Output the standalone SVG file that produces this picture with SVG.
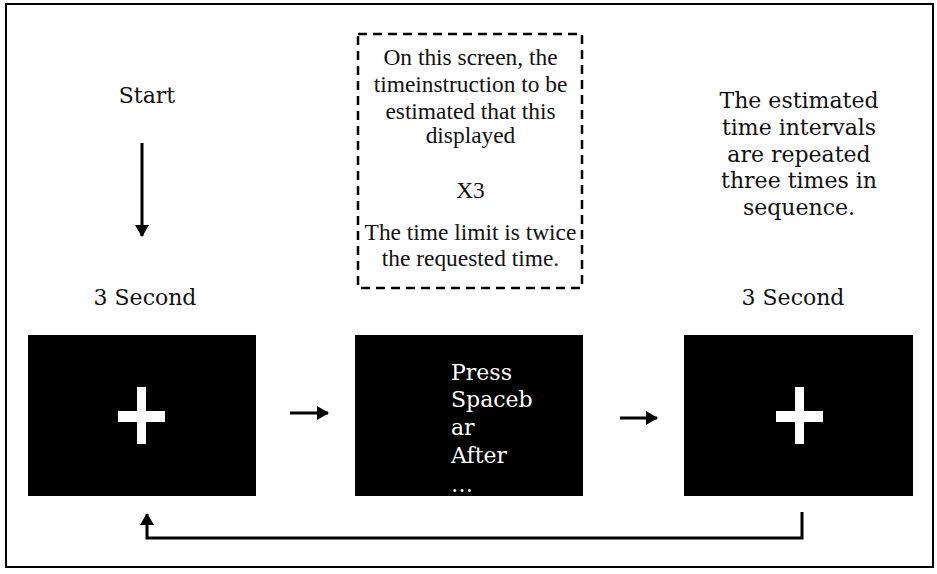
<svg xmlns="http://www.w3.org/2000/svg" width="937" height="574" viewBox="0 0 937 574">
<style>
.bk{font-family:"DejaVu Serif","Liberation Serif",serif;font-size:22px;fill:#111;text-anchor:middle}
.tm{font-family:"Liberation Serif","Times New Roman",serif;font-size:23.4px;fill:#111;text-anchor:middle}
.wt{font-family:"DejaVu Serif","Liberation Serif",serif;font-size:22px;fill:#fff}
.scr{fill:#000}
.cross{fill:#fff}
.ln{stroke:#000;stroke-width:3;fill:none}
</style>
<defs>
<marker id="ah" viewBox="0 0 12 14" refX="11" refY="7" markerWidth="12" markerHeight="14" markerUnits="userSpaceOnUse" orient="auto">
<path d="M0,0 L12,7 L0,14 Z" fill="#000"/>
</marker>
</defs>
<rect x="6" y="4" width="927" height="563" fill="#fff" stroke="#000" stroke-width="2"/>
<g id="start">
<text class="bk" x="147" y="103">Start</text>
</g>
<g id="instruction">
<rect x="358" y="34" width="224" height="254" fill="none" stroke="#000" stroke-width="2.5" stroke-dasharray="9 6"/>
<text class="tm" x="470.5" y="65">On this screen, the</text>
<text class="tm" x="470.5" y="92">timeinstruction to be</text>
<text class="tm" x="470.5" y="119">estimated that this</text>
<text class="tm" x="470.5" y="143">displayed</text>
<text class="tm" x="470.5" y="198">X3</text>
<text class="tm" x="470.5" y="240">The time limit is twice</text>
<text class="tm" x="470.5" y="266">the requested time.</text>
</g>
<g id="repeat-note">
<text class="bk" x="799" y="108">The estimated</text>
<text class="bk" x="799" y="135">time intervals</text>
<text class="bk" x="799" y="162">are repeated</text>
<text class="bk" x="799" y="188">three times in</text>
<text class="bk" x="799" y="215">sequence.</text>
</g>
<g id="label-left">
<text class="bk" x="145" y="305">3 Second</text>
</g>
<g id="label-right">
<text class="bk" x="793" y="305">3 Second</text>
</g>
<g id="screen-fixation-1">
<rect class="scr" x="28" y="335" width="228" height="161"/>
<rect class="cross" x="137" y="387" width="9" height="57"/>
<rect class="cross" x="118" y="411" width="47" height="11"/>
</g>
<g id="screen-press">
<rect class="scr" x="355" y="335" width="228" height="161"/>
<text class="wt" x="451" y="380">Press</text>
<text class="wt" x="451" y="407">Spaceb</text>
<text class="wt" x="451" y="435">ar</text>
<text class="wt" x="451" y="463">After</text>
<text class="wt" x="451" y="492">…</text>
</g>
<g id="screen-fixation-2">
<rect class="scr" x="684" y="335" width="229" height="161"/>
<rect class="cross" x="795" y="387" width="9" height="57"/>
<rect class="cross" x="776" y="411" width="47" height="11"/>
</g>
<g id="connectors">
<line class="ln" x1="142" y1="143" x2="142" y2="236" stroke-width="2" marker-end="url(#ah)"/>
<line class="ln" x1="290" y1="413" x2="328" y2="413" marker-end="url(#ah)"/>
<line class="ln" x1="620" y1="418" x2="657" y2="418" marker-end="url(#ah)"/>
<polyline class="ln" points="802,512 802,538 147,538 147,514" marker-end="url(#ah)"/>
</g>
</svg>
